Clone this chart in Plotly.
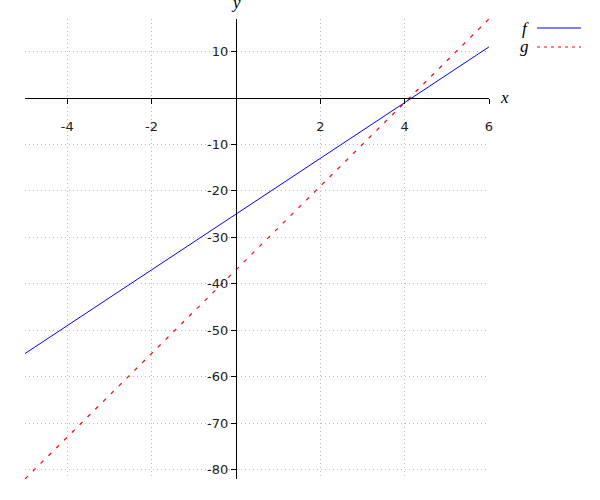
import plotly.graph_objects as go

# Data
x_vals = [-5, 6]
f_vals = [-55, 11]
g_vals = [-82, 17]
x_ticks = [-4, -2, 2, 4, 6]
x_labels = ["-4", "-2", "2", "4", "6"]
y_ticks = [10, -10, -20, -30, -40, -50, -60, -70, -80]
y_labels = ["10", "-10", "-20", "-30", "-40", "-50", "-60", "-70", "-80"]
x_range = [-5, 6]
y_range = [-82, 17]

fig = go.Figure()
fig.add_trace(go.Scatter(x=x_vals, y=f_vals, mode="lines", name="f",
                         line=dict(color="#0000ff", width=1), showlegend=False))
fig.add_trace(go.Scatter(x=x_vals, y=g_vals, mode="lines", name="g",
                         line=dict(color="#ff0000", width=1.2, dash="4px,7px"), showlegend=False))

tickfont = dict(family="DejaVu Sans", size=13, color="#222")
grid = dict(showgrid=True, gridcolor="#bbbbbb", griddash="1px,3px", gridwidth=1)
fig.update_layout(
    width=600, height=500,
    margin=dict(l=25, r=111, t=19, b=21),
    paper_bgcolor="white", plot_bgcolor="white",
    xaxis=dict(range=x_range, anchor="free",
               position=(0 - y_range[0]) / (y_range[1] - y_range[0]),
               tickvals=x_ticks, ticktext=x_labels,
               ticks="outside", ticklen=5, tickcolor="black",
               ticklabelstandoff=11,
               showline=True, linecolor="black", linewidth=1,
               zeroline=False, tickfont=tickfont, **grid),
    yaxis=dict(range=y_range, anchor="free",
               position=(0 - x_range[0]) / (x_range[1] - x_range[0]),
               tickvals=y_ticks, ticktext=y_labels,
               ticks="outside", ticklen=5, tickcolor="black",
               showline=True, linecolor="black", linewidth=1,
               zeroline=False, tickfont=tickfont, **grid),
)

serif = dict(family="Liberation Serif", size=17, color="black")
fig.add_annotation(text="<i>x</i>", xref="paper", yref="y", x=1, y=0,
                   xanchor="left", yanchor="middle", xshift=9, showarrow=False, font=serif)
fig.add_annotation(text="<i>y</i>", xref="x", yref="paper", x=0, y=1,
                   xanchor="center", yanchor="bottom", yshift=5, showarrow=False, font=serif)

# Custom legend (label on the left, sample on the right)
legend_items = [("f", "#0000ff", "solid", 28), ("g", "#ff0000", "3px,4px", 47)]
for name, color, dash, py in legend_items:
    yp = 1 - (py - 19) / 460
    fig.add_annotation(text=f"<i>{name}</i>", xref="paper", yref="paper",
                       x=(531 - 25) / 464, y=yp, xanchor="right", yanchor="middle",
                       showarrow=False, font=serif)
    fig.add_shape(type="line", xref="paper", yref="paper",
                  x0=(537 - 25) / 464, x1=(581 - 25) / 464, y0=yp, y1=yp,
                  line=dict(color=color, width=1, dash=dash))

fig.write_html("out.html", config={"displayModeBar": False},
               post_script="document.body.style.margin='0';")
